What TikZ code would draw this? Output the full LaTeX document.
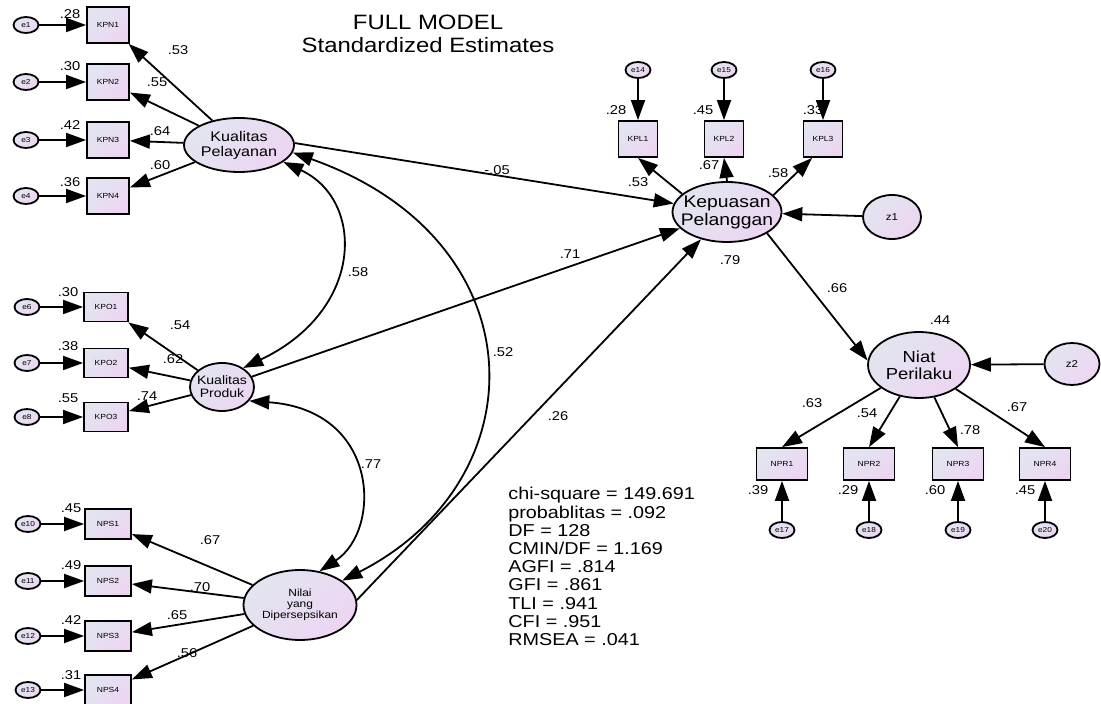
\documentclass[tikz,border=0pt]{standalone}
\usepackage{fontspec}
\setmainfont{Liberation Sans}[FakeStretch=1.15]
\usepackage{tikz}
\usetikzlibrary{arrows.meta,shapes.geometric}
\definecolor{latA}{HTML}{E2E5F0}
\definecolor{latB}{HTML}{EDD5F2}
\tikzset{
  shadefill/.style={top color=latA, bottom color=latB, shading angle=45},
  latent/.style={ellipse, draw, line width=0.9pt, shadefill, inner xsep=-6pt, inner ysep=-2pt, align=center},
  errnode/.style={ellipse, draw, line width=0.9pt, shadefill, minimum width=12.5pt, minimum height=8pt,
               inner sep=0pt, font=\fontsize{3.6}{4}\selectfont},
  obsbox/.style={rectangle, draw, line width=0.9pt, shadefill, inner sep=0pt, font=\fontsize{3.7}{4}\selectfont},
  reg/.style={-{Triangle[length=10pt,width=7pt]}, line width=0.9pt},
  cov/.style={{Triangle[length=10pt,width=7pt]}-{Triangle[length=10pt,width=7pt]}, line width=0.9pt},
  est/.style={font=\fontsize{6.4}{7}\selectfont, inner sep=0pt},
}
\begin{document}
\begin{tikzpicture}[x=0.5pt, y=-0.5pt]
  \useasboundingbox (0,0) rectangle (1101,704);
  \node[font=\fontsize{10.4}{11.5}\selectfont, align=center] (title) at (428,34) {FULL MODEL\\Standardized Estimates};
  % latent variables
  \node[latent, minimum width=55pt, minimum height=27pt, font=\fontsize{7}{7.4}\selectfont] (kpel) at (239,145) {Kualitas\\Pelayanan};
  \node[latent, minimum width=32pt, minimum height=24pt, font=\fontsize{6.1}{6.6}\selectfont] (kpro) at (222,387) {Kualitas\\Produk};
  \node[latent, minimum width=56.5pt, minimum height=35pt, font=\fontsize{5.2}{5.6}\selectfont] (nilai) at (300,605) {Nilai\\yang\\Dipersepsikan};
  \node[latent, minimum width=54.5pt, minimum height=30pt, font=\fontsize{8.4}{9}\selectfont] (kep) at (727,212) {Kepuasan\\Pelanggan};
  \node[latent, minimum width=51pt, minimum height=33pt, font=\fontsize{8}{8.5}\selectfont] (niat) at (919,365) {Niat\\Perilaku};
  \node[latent, minimum width=29pt, minimum height=22pt, font=\fontsize{5}{6}\selectfont] (z1) at (892,217) {z1};
  \node[latent, minimum width=27.5pt, minimum height=21pt, font=\fontsize{5}{6}\selectfont] (z2) at (1072,364) {z2};
  % Kualitas Pelayanan indicators
  \foreach \n/\y/\rsq/\ry/\ld/\lx/\ly in {1/25/.28/14/.53/178/50, 2/82/.30/66/.55/157/82,
      3/140/.42/125/.64/160/131, 4/196/.36/182/.60/160/165} {
    \node[obsbox, minimum width=21pt, minimum height=18pt] (kpn\n) at (108,\y) {KPN\n};
    \node[errnode] (e\n) at (26,\y) {e\n};
    \draw[reg] (e\n) -- (kpn\n);
    \draw[reg] (kpel) -- (kpn\n);
    \node[est] (rkpn\n) at (70,\ry) {\rsq};
    \node[est] (lkpn\n) at (\lx,\ly) {\ld};
  }
  % Kualitas Produk indicators
  \foreach \n/\y/\e/\rsq/\ry/\ld/\lx/\ly in {1/307/6/.30/292/.54/180/325, 2/363/7/.38/346/.62/173/359,
      3/417/8/.55/398/.74/147/396} {
    \node[obsbox, minimum width=22pt, minimum height=14.5pt] (kpo\n) at (106,\y) {KPO\n};
    \node[errnode] (e\e) at (27,\y) {e\e};
    \draw[reg] (e\e) -- (kpo\n);
    \draw[reg] (kpro) -- (kpo\n);
    \node[est] (rkpo\n) at (68,\ry) {\rsq};
    \node[est] (lkpo\n) at (\lx,\ly) {\ld};
  }
  % Nilai yang Dipersepsikan indicators
  \foreach \n/\y/\e/\rsq/\ry/\ld/\lx/\ly in {1/524/10/.45/508/.67/210/540, 2/581/11/.49/565/.70/200/587,
      3/636/12/.42/620/.65/177/615, 4/690/13/.31/675/.56/187/653} {
    \node[obsbox, minimum width=23pt, minimum height=15pt] (nps\n) at (108,\y) {NPS\n};
    \node[errnode] (e\e) at (28,\y) {e\e};
    \draw[reg] (e\e) -- (nps\n);
    \draw[reg] (nilai) -- (nps\n);
    \node[est] (rnps\n) at (71,\ry) {\rsq};
    \node[est] (lnps\n) at (\lx,\ly) {\ld};
  }
  % Kepuasan Pelanggan indicators
  \foreach \n/\x/\e/\rsq/\rx/\ld/\lx/\ly/\a/\b in {1/638/14/.28/616/.53/638/182/158/south, 2/724/15/.45/703/.67/709/165/north/south,
      3/823/16/.33/813/.58/778/173/20/-120} {
    \node[obsbox, minimum width=19.5pt, minimum height=18pt] (kpl\n) at (\x,139) {KPL\n};
    \node[errnode] (e\e) at (\x,70) {e\e};
    \draw[reg] (e\e) -- (kpl\n);
    \draw[reg] (kep.\a) -- (kpl\n.\b);
    \node[est] (rkpl\n) at (\rx,110) {\rsq};
    \node[est] (lkpl\n) at (\lx,\ly) {\ld};
  }
  % Niat Perilaku indicators
  \foreach \n/\x/\e/\rsq/\rx/\ld/\lx/\ly in {1/782/17/.39/758/.63/812/403, 2/869/18/.29/848/.54/867/413,
      3/958/19/.60/935/.78/970/430, 4/1045/20/.45/1025/.67/1017/407} {
    \node[obsbox, minimum width=25.5pt, minimum height=16pt] (npr\n) at (\x,464) {NPR\n};
    \node[errnode] (e\e) at (\x,530) {e\e};
    \draw[reg] (e\e) -- (npr\n);
    \draw[reg] (niat) -- (npr\n.north);
    \node[est] (rnpr\n) at (\rx,490) {\rsq};
    \node[est] (lnpr\n) at (\lx,\ly) {\ld};
  }
  % covariances
  \draw[cov] (kpel.-21) .. controls (365,200) and (365,310) .. (kpro.42);
  \draw[cov] (kpel.-8) .. controls (540,240) and (540,480) .. (nilai.30);
  \draw[cov] (kpro.-27) .. controls (380,410) and (382,530) .. (nilai.60);
  \node[est] (c58) at (358,272) {.58};
  \node[est] (c52) at (503,352) {.52};
  \node[est] (c77) at (371,464) {.77};
  % structural paths
  \draw[reg] (kpel.2) -- (kep);
  \draw[reg] (kpro) -- (kep);
  \draw[reg] (nilai.5) -- (kep);
  \draw[reg] (kep.-28) -- (niat.175);
  \draw[reg] (z1) -- (kep);
  \draw[reg] (z2) -- (niat);
  \node[est] (b05) at (497,170) {-.05};
  \node[est] (b71) at (570,254) {.71};
  \node[est] (b26) at (558,416) {.26};
  \node[est] (b66) at (837,288) {.66};
  \node[est] (rkep) at (730,260) {.79};
  \node[est] (rniat) at (940,320) {.44};
  % fit indices
  \node[anchor=north west, align=left, inner sep=0pt, font=\fontsize{8.6}{9.1}\selectfont] (fitidx) at (508,487)
    {chi-square = 149.691\\probablitas = .092\\DF = 128\\CMIN/DF = 1.169\\AGFI = .814\\GFI = .861\\TLI = .941\\CFI = .951\\RMSEA = .041};
\end{tikzpicture}
\end{document}
